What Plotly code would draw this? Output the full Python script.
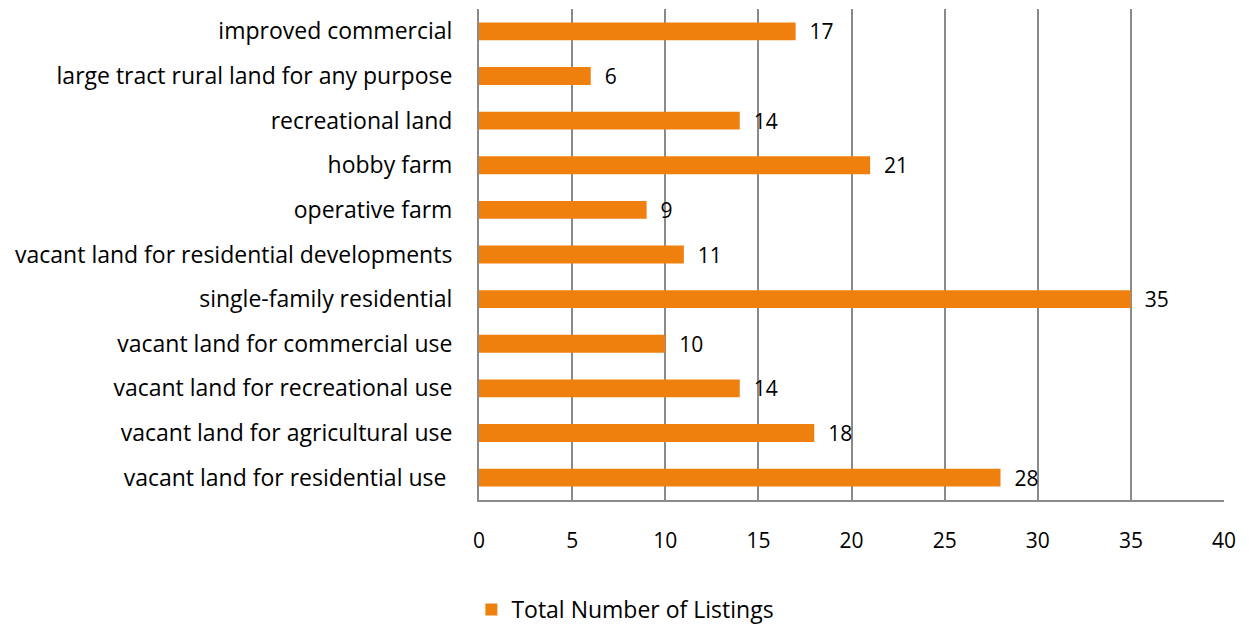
import plotly.graph_objects as go

categories = [
    "vacant land for residential use\u00a0",
    "vacant land for agricultural use",
    "vacant land for recreational use",
    "vacant land for commercial use",
    "single-family residential",
    "vacant land for residential developments",
    "operative farm",
    "hobby farm",
    "recreational land",
    "large tract rural land for any purpose",
    "improved commercial",
]
values = [28, 18, 14, 10, 35, 11, 9, 21, 14, 6, 17]
x_ticks = [0, 5, 10, 15, 20, 25, 30, 35, 40]
series_name = "Total Number of Listings"

ORANGE = "#F0800E"
GRID = "#8A8A8A"
FONT = "Open Sans"

fig = go.Figure()
fig.add_trace(go.Bar(
    y=categories, x=values, orientation="h", name=series_name,
    marker=dict(color=ORANGE, line=dict(width=0)),
    width=0.4,
    text=values, texttemplate="\u00a0\u00a0%{x}", textposition="outside",
    constraintext="none",
    textfont=dict(family=FONT, size=21, color="#000000"),
    cliponaxis=False,
))

fig.update_layout(
    width=1249, height=624,
    margin=dict(l=471, r=33, t=1, b=132, autoexpand=False),
    paper_bgcolor="white", plot_bgcolor="white",
    font=dict(family=FONT, size=21, color="#000000"),
    showlegend=True,
    legend=dict(orientation="h", xref="container", yref="container",
                x=0.371, y=0.036, xanchor="left", yanchor="middle",
                font=dict(family=FONT, size=23, color="#000000")),
    xaxis=dict(range=[0, 40], tickvals=x_ticks, showgrid=True, gridcolor=GRID,
               gridwidth=1.5, zeroline=False, showline=True, linecolor=GRID,
               linewidth=2, ticks="", ticklabelstandoff=21, automargin=False,
               tickfont=dict(family=FONT, size=21)),
    yaxis=dict(categoryorder="array", categoryarray=categories,
               showline=True, linecolor=GRID, linewidth=2, ticks="",
               ticklabelstandoff=20, showgrid=False, automargin=False,
               tickfont=dict(family=FONT, size=23)),
    bargap=0.6,
)

fig.write_html("out.html")
